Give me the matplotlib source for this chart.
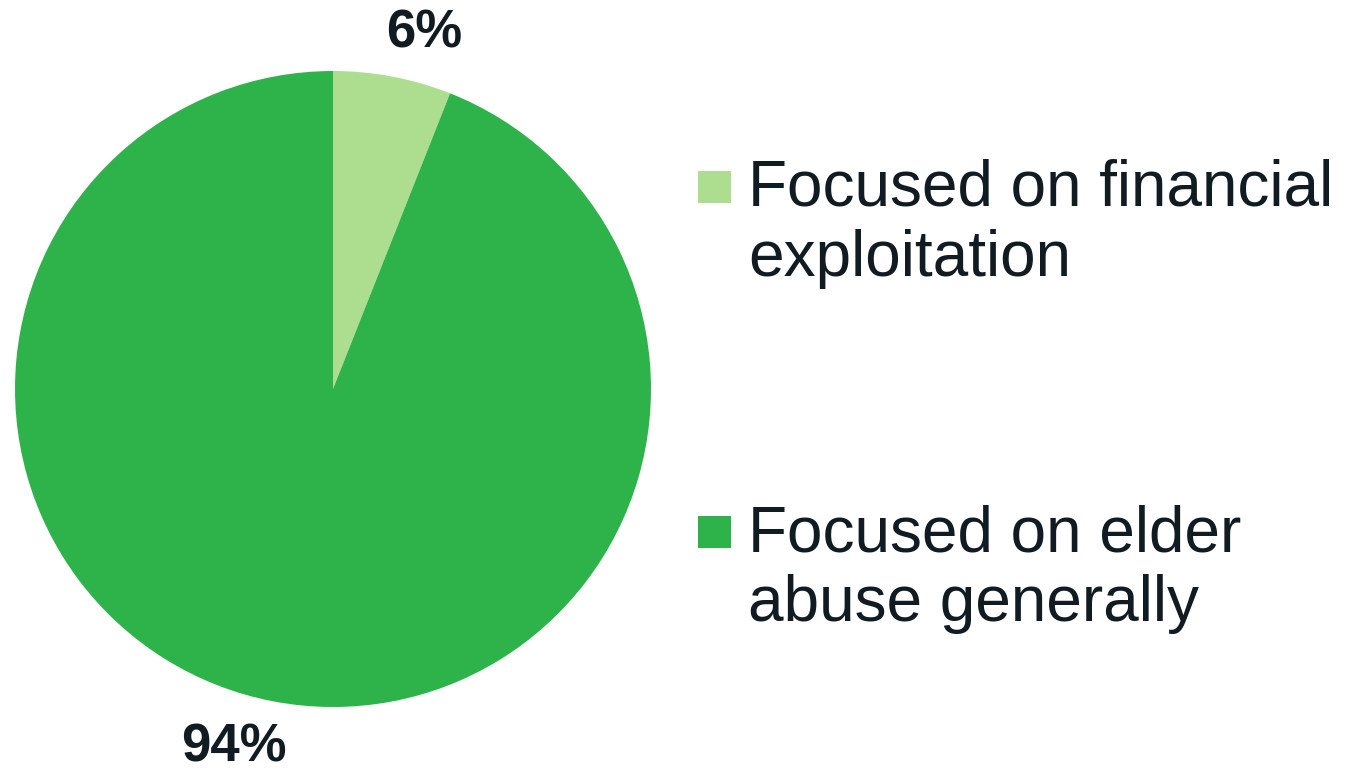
import matplotlib
matplotlib.use("Agg")
import matplotlib.pyplot as plt
from matplotlib.patches import Rectangle

categories = ["Focused on financial\nexploitation", "Focused on elder\nabuse generally"]
values = [6, 94]
labels = ["6%", "94%"]
colors = ["#addd8e", "#2eb34a"]
text_color = "#111b22"

W, H = 1345, 772
fig = plt.figure(figsize=(W / 100, H / 100), dpi=100)
plt.rcParams['font.family'] = ['Liberation Sans', 'DejaVu Sans']

cx, cy, r = 333, 389, 318
ax = fig.add_axes([(cx - r) / W, (H - cy - r) / H, 2 * r / W, 2 * r / H])
wedges, _ = ax.pie(values, colors=colors, startangle=90, counterclock=False,
                   radius=1.0, wedgeprops=dict(linewidth=0))
ax.set_xlim(-1, 1)
ax.set_ylim(-1, 1)
ax.set_aspect('auto')
ax.axis('off')

# data labels (pixel positions converted to figure fraction)
label_pos = [(424, 47), (234, 761)]
for lab, (px, py) in zip(labels, label_pos):
    fig.text(px / W, 1 - py / H, lab, ha='center', va='baseline',
             fontsize=38, fontweight='bold', color=text_color)

# legend
entry_baselines = [206, 551]
line_pitch = 70
for cat, col, b in zip(categories, colors, entry_baselines):
    fig.patches.append(Rectangle((698 / W, 1 - 203 / H - (b - 206) / H), 33 / W, 32 / H,
                                 transform=fig.transFigure, facecolor=col,
                                 edgecolor='none'))
    for i, line in enumerate(cat.split("\n")):
        fig.text(748 / W, 1 - (b + i * line_pitch) / H, line, ha='left',
                 va='baseline', fontsize=46, color=text_color)

fig.savefig("out.png", dpi=100, facecolor='white')
